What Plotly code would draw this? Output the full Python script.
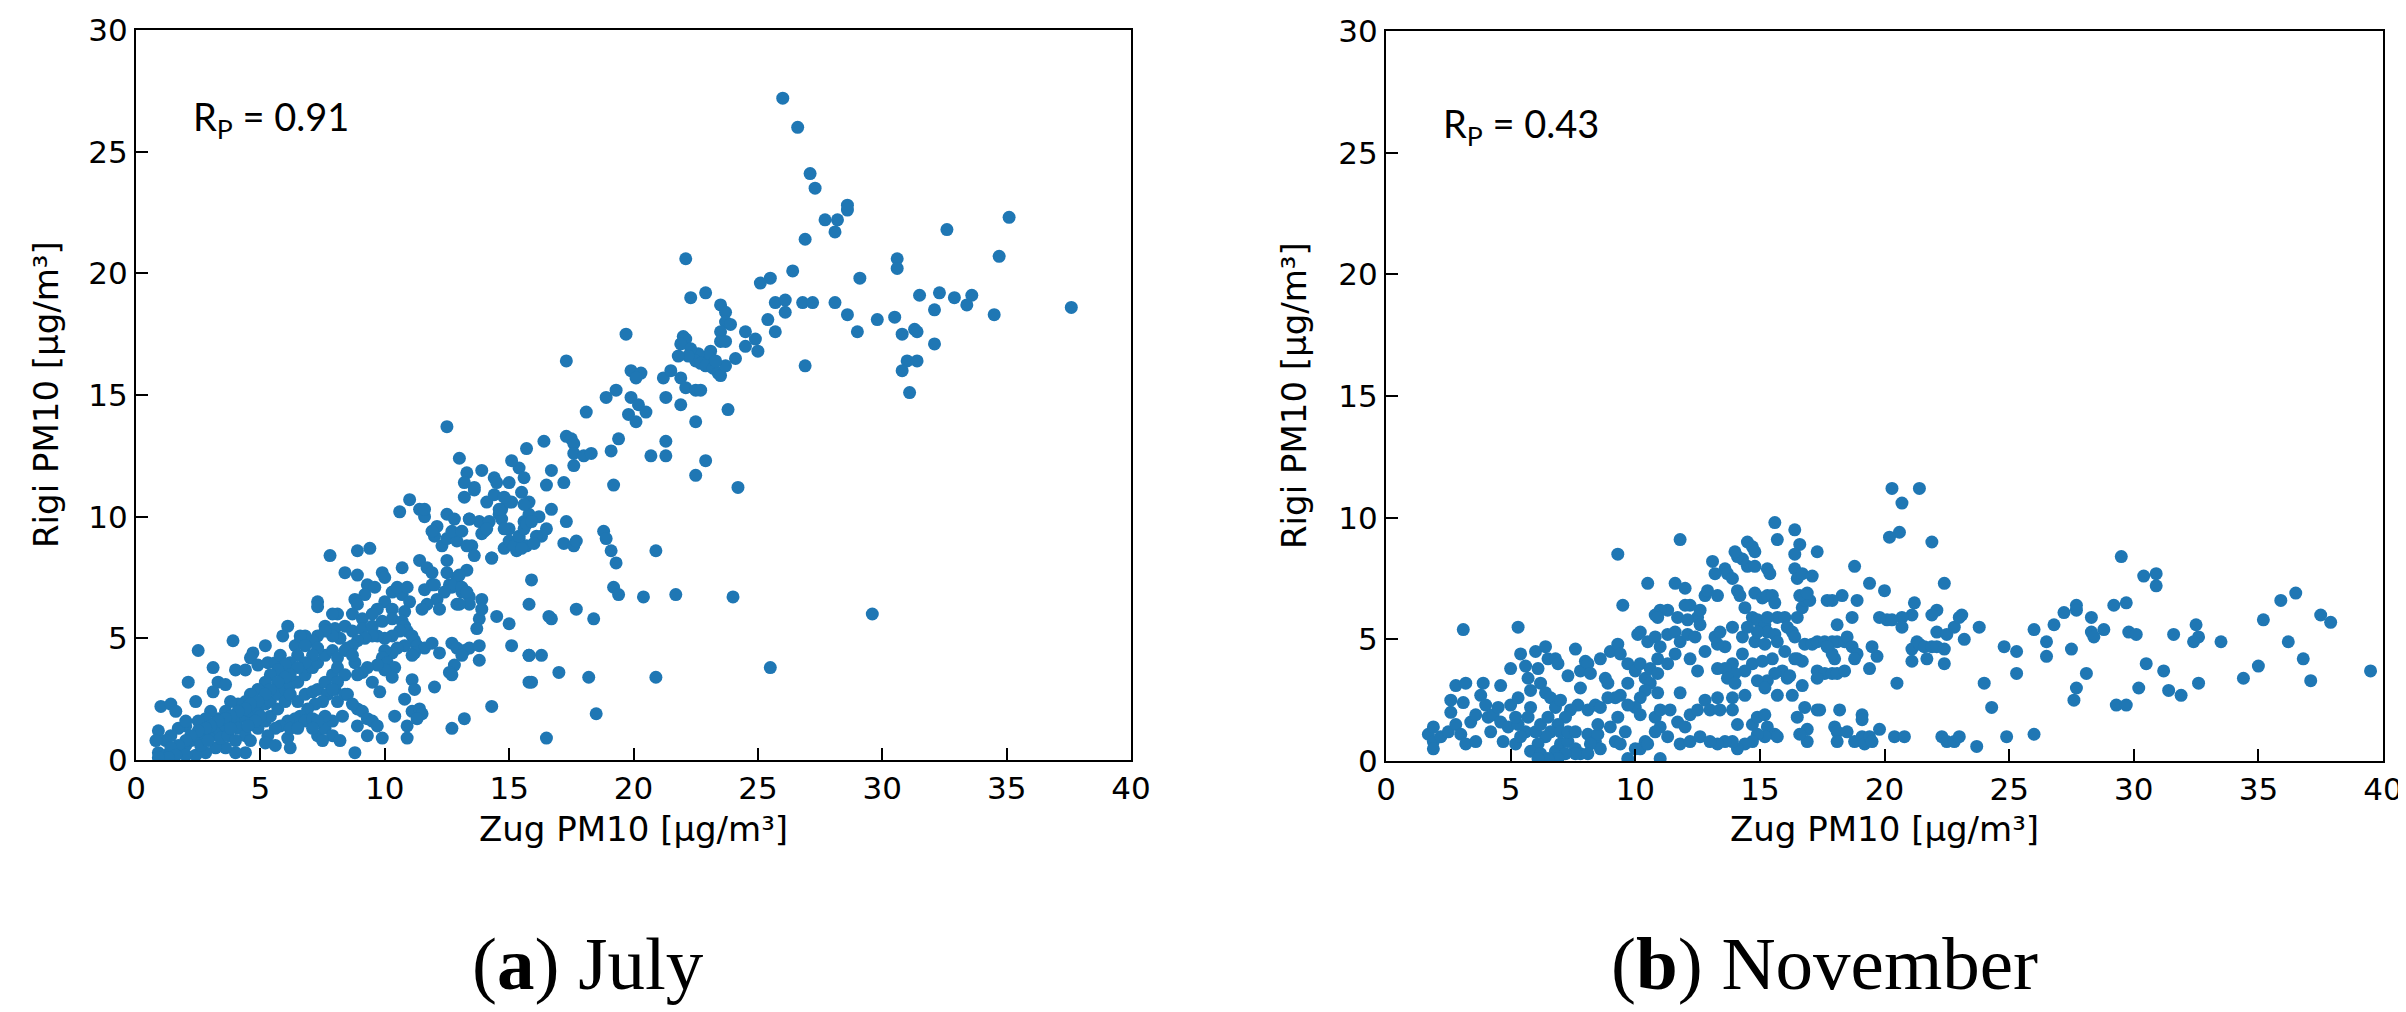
import plotly.graph_objects as go

# ---------------- July (Zug vs Rigi PM10) ----------------
jul_x = [
    11.0, 10.6, 11.4, 11.6, 11.6, 13.2, 13.6, 14.1, 14.4, 14.7, 15.1, 15.5, 12.1, 12.5, 12.8, 13.4, 13.8, 14.0, 14.6, 15.0,
    15.4, 15.6, 15.8, 12.0, 12.3, 12.5, 12.9, 13.5, 14.3, 14.8, 15.3, 15.7, 12.7, 11.9, 13.1,
    7.8, 8.9, 9.4, 8.4, 8.9, 9.9, 10.0, 10.7, 11.4, 11.7, 11.9, 12.5, 13.3, 12.9, 12.6, 11.9, 11.6, 12.1, 12.7, 13.1,
    13.4, 13.9, 12.9, 12.2, 11.7, 11.5, 9.3, 9.6, 9.2, 8.8, 8.9, 10.0, 10.3, 10.7, 10.5, 10.9, 11.0, 10.8, 10.3, 9.7,
    9.5, 9.1, 8.7, 8.1, 7.9, 7.3, 7.3, 7.6, 8.0, 8.4, 8.7, 9.1, 9.5, 9.9, 10.3, 10.7, 10.8, 10.9, 11.1, 10.6,
    10.3, 10.0, 9.7, 9.5, 9.2, 8.9, 8.7, 8.5, 8.2, 7.9, 7.6, 7.3, 7.1, 6.8, 6.6, 6.4, 6.1, 5.9, 13.8, 14.5,
    15.0, 15.8, 13.9, 13.7,
    11.2, 11.3, 11.6, 11.9, 12.2, 12.7, 12.9, 13.2, 13.4, 13.1, 12.8, 12.6, 12.7, 13.8, 13.8, 15.1, 15.8, 15.8, 11.1, 11.2,
    12.0, 11.2, 11.1, 10.8, 10.5, 10.3, 10.0, 9.9, 10.1, 10.4, 10.0, 9.7, 9.3, 9.1, 8.9, 9.5, 9.8, 10.3, 10.8, 10.4,
    11.1, 11.4, 11.5, 11.3, 10.9, 10.9, 12.7, 13.2, 14.3, 8.9, 9.1, 9.3, 9.5, 9.7, 8.9, 9.3, 9.9, 8.8,
    2.5, 3.9, 5.2, 4.7, 3.1, 2.1, 3.3, 3.1, 3.6, 4.0, 4.4, 4.6, 4.9, 5.3, 5.6, 5.8, 6.6, 6.8, 6.5, 6.2,
    6.0, 5.7, 5.4, 5.2, 4.9, 4.6, 4.4, 4.1, 3.8, 3.6, 3.3, 3.0, 2.8, 2.5, 2.4, 2.0, 1.7, 1.4, 1.2, 0.9,
    0.8, 0.9, 1.2, 1.4, 1.7, 2.0, 2.2, 2.5, 2.8, 3.0, 3.3, 3.6, 3.8, 4.1, 4.4, 4.6, 4.9, 5.2, 5.4, 5.7,
    6.0, 6.2, 6.5, 6.8, 7.1, 7.3, 7.6, 7.9, 8.1, 8.4, 7.3, 7.1, 6.8, 6.5, 6.2, 6.0, 5.7, 5.4, 5.2, 4.9,
    4.6, 4.4, 4.1, 3.8, 3.6, 3.3, 3.0, 2.8, 2.5, 2.2, 2.0, 1.7, 1.4, 1.0, 1.4, 1.6, 2.0, 4.1, 4.4, 4.6,
    4.9, 5.2, 5.4, 5.7, 6.0, 6.2, 6.5, 6.8, 7.1, 7.3, 7.6, 7.9, 8.1, 8.0, 7.7, 7.5, 7.2, 6.9, 6.6, 6.4,
    6.1, 5.8, 5.6, 5.3, 5.2, 5.6, 6.1, 6.2, 6.8, 7.3, 7.6, 7.9, 8.2, 7.5, 8.1, 8.4, 6.2, 4.4, 4.0, 3.6,
    3.2, 2.8, 2.4, 2.0, 1.6, 1.3, 0.9, 2.6, 2.9, 3.4, 3.7, 4.0, 6.5, 7.1, 5.0, 4.8, 4.5, 3.8, 8.8, 8.7,
    8.4, 8.1, 7.9, 8.5, 8.7, 8.3, 7.9, 7.6, 7.3, 7.1,
    22.3, 22.9, 23.5, 23.7, 23.7, 23.9, 25.7, 26.1, 26.1, 26.8, 27.2, 25.4, 25.7, 24.5, 24.9, 25.0, 24.5, 24.1, 23.5, 23.5,
    23.7, 23.1, 23.0, 22.6, 22.5, 22.7, 22.9, 23.2, 23.4, 23.5, 23.7, 22.0, 22.1, 21.9, 22.3, 22.2, 21.8, 23.3, 19.7, 17.3,
    19.9, 20.3, 20.1, 21.2, 21.5, 21.9, 22.1, 22.5, 22.7, 21.3, 21.9, 23.8, 22.5, 26.9, 18.9, 19.3, 19.9, 20.2, 20.5, 19.8,
    20.1, 18.1, 17.3, 17.5, 17.6, 19.4, 19.1, 17.6, 18.0, 18.3, 17.6, 20.7, 21.3, 21.3, 22.5, 22.9, 24.2, 19.2, 16.4, 15.7,
    16.7, 17.2, 16.5, 15.4, 15.6, 15.1, 15.0, 14.4, 14.5, 13.9, 13.6, 13.3, 13.2, 13.0, 12.5,
    16.7, 17.3, 16.2, 16.5, 16.3, 17.2, 17.6, 17.7, 18.8, 18.9, 19.1, 19.3, 20.9, 15.9, 19.2, 19.4, 20.4, 21.7, 24.0, 17.7,
    16.6, 16.7, 18.4, 15.8, 16.3, 17.0, 18.2, 20.9, 15.9, 18.5, 25.5, 16.5, 29.6,
    14.7, 14.8, 15.0, 15.2, 15.5, 15.4, 15.6, 15.7, 15.9, 16.1, 16.0, 15.8, 15.6, 15.0, 14.8, 14.6, 14.2, 13.9, 14.1, 13.4,
    13.6, 14.3, 13.3, 12.5, 12.8, 13.0, 13.1, 13.3, 13.4, 13.0, 12.4, 12.0,
    26.0, 26.6, 27.1, 27.3, 28.6, 28.6, 27.7, 28.2, 28.1, 26.9, 35.1, 32.6, 34.7, 30.6, 30.6, 29.1, 26.4, 25.5, 25.1, 22.1,
    31.5, 32.3, 32.9, 33.6, 33.4, 32.1, 34.5, 37.6, 28.1, 28.6, 29.8, 30.5, 29.0, 30.8, 31.3, 31.4, 32.1, 31.0, 31.4, 30.8,
    31.1,
]
jul_y = [
    10.7, 10.2, 10.3, 10.0, 10.3, 10.8, 11.1, 10.6, 10.9, 10.3, 10.6, 11.0, 9.6, 10.1, 9.9, 9.9, 9.8, 9.4, 10.1, 9.5,
    9.1, 9.8, 10.1, 9.2, 8.8, 9.1, 9.0, 8.8, 8.3, 8.7, 8.6, 8.8, 9.4, 9.4, 9.4,
    8.4, 8.6, 8.7, 7.7, 7.6, 7.7, 7.5, 7.9, 8.2, 7.9, 7.7, 8.2, 7.8, 7.5, 7.2, 7.2, 7.0, 6.6, 7.1, 6.9,
    6.7, 6.6, 6.4, 6.2, 6.4, 6.2, 7.2, 7.1, 6.8, 6.6, 6.4, 6.5, 6.9, 6.8, 7.1, 7.1, 6.5, 6.1, 6.2, 6.2,
    6.0, 5.8, 6.0, 6.0, 6.0, 6.5, 6.3, 5.5, 5.4, 5.5, 5.3, 5.4, 5.5, 5.7, 5.8, 5.7, 5.5, 5.3, 5.1, 5.3,
    5.1, 5.0, 5.1, 5.1, 5.0, 4.9, 4.7, 4.6, 5.0, 5.1, 5.3, 5.1, 4.9, 5.1, 4.9, 4.7, 5.5, 5.1, 5.8, 5.9,
    5.6, 6.4, 6.2, 5.4,
    4.9, 4.7, 4.6, 4.8, 4.4, 4.8, 4.6, 4.5, 4.6, 4.3, 3.9, 3.6, 3.5, 4.7, 4.1, 4.7, 4.3, 3.2, 3.3, 2.9,
    3.0, 4.4, 4.3, 4.7, 4.6, 4.4, 4.5, 4.2, 4.0, 3.8, 3.7, 3.9, 3.8, 3.6, 3.5, 3.2, 2.8, 3.4, 2.5, 1.8,
    2.0, 2.1, 1.9, 1.7, 1.4, 0.9, 1.3, 1.7, 2.2, 2.1, 2.0, 1.7, 1.6, 1.4, 1.4, 1.0, 0.9, 0.3,
    4.5, 4.9, 4.7, 4.4, 3.8, 3.2, 3.2, 2.8, 3.1, 3.7, 3.7, 4.2, 3.9, 4.0, 4.0, 4.3, 5.1, 4.7, 4.3, 4.0,
    3.9, 3.7, 3.5, 3.2, 2.9, 2.7, 2.4, 2.3, 2.4, 2.0, 1.7, 2.0, 1.7, 1.6, 2.4, 1.4, 1.3, 1.0, 0.8, 1.2,
    0.8, 0.3, 0.2, 0.3, 0.5, 0.6, 0.8, 0.9, 0.9, 1.0, 1.3, 1.4, 1.6, 1.7, 1.8, 2.0, 2.1, 2.3, 2.4, 2.7,
    2.9, 3.1, 3.2, 3.5, 3.8, 4.0, 4.3, 4.5, 4.2, 4.5, 4.6, 4.3, 4.0, 3.8, 3.5, 3.4, 3.2, 2.9, 2.7, 2.4,
    2.3, 2.1, 2.0, 1.8, 1.7, 1.6, 1.4, 1.3, 1.2, 1.0, 0.8, 0.6, 0.5, 2.2, 2.3, 2.0, 1.6, 1.3, 1.0, 0.8,
    1.3, 1.6, 1.8, 2.1, 2.4, 2.7, 2.4, 2.7, 2.8, 2.9, 3.2, 3.5, 3.8, 2.9, 2.7, 2.4, 2.3, 2.1, 1.8, 1.7,
    1.6, 1.4, 1.3, 1.0, 0.7, 0.6, 0.9, 0.5, 1.6, 1.0, 1.3, 1.0, 0.8, 0.8, 2.4, 2.7, 1.3, 0.3, 0.3, 0.5,
    0.5, 0.3, 0.2, 0.2, 0.2, 0.1, 0.1, 0.6, 0.8, 0.9, 1.0, 0.8, 1.3, 1.7, 1.8, 1.6, 1.4, 1.3, 4.0, 4.3,
    3.5, 3.2, 2.9, 2.7, 2.3, 1.8, 1.6, 1.8, 1.6, 1.3,
    19.0, 19.2, 18.7, 18.4, 18.0, 17.9, 18.8, 18.9, 18.4, 18.8, 18.8, 18.1, 17.6, 17.6, 17.3, 16.8, 17.0, 16.5, 17.6, 17.2,
    17.2, 16.8, 16.6, 16.7, 16.4, 16.3, 16.2, 16.1, 15.9, 15.8, 16.2, 17.4, 17.3, 17.1, 16.9, 16.6, 16.6, 16.4, 17.5, 16.4,
    16.0, 15.9, 15.7, 15.7, 16.0, 15.7, 15.3, 15.2, 15.2, 14.9, 14.6, 14.4, 13.9, 16.2, 14.9, 15.2, 14.9, 14.6, 14.3, 14.2,
    13.9, 14.3, 13.3, 13.2, 13.0, 13.2, 12.7, 12.6, 12.5, 12.6, 12.1, 12.5, 12.5, 13.1, 11.7, 12.3, 11.2, 11.3, 13.1, 12.8,
    11.9, 11.4, 11.3, 12.0, 11.6, 12.3, 11.4, 11.6, 11.4, 11.9, 11.2, 11.8, 11.4, 12.4, 13.7,
    10.3, 9.8, 10.0, 9.5, 9.2, 8.9, 8.8, 9.0, 9.4, 9.1, 8.6, 8.1, 8.6, 7.4, 7.1, 6.8, 6.7, 6.8, 6.7, 6.2,
    5.9, 5.8, 5.8, 4.3, 4.3, 3.6, 3.4, 3.4, 3.2, 1.9, 3.8, 0.9, 6.0,
    9.9, 9.5, 9.0, 8.8, 8.7, 9.2, 9.5, 9.7, 9.8, 9.2, 8.9, 10.6, 10.5, 10.6, 10.8, 10.3, 9.8, 9.3, 9.5, 9.9,
    8.4, 8.3, 8.8, 7.7, 7.2, 7.6, 7.1, 6.9, 6.4, 6.4, 6.9, 7.2,
    27.2, 26.0, 24.1, 23.5, 22.8, 22.6, 22.2, 22.2, 21.7, 21.4, 22.3, 21.8, 20.7, 20.6, 20.2, 19.8, 20.1, 19.8, 19.6, 20.6,
    19.1, 19.2, 19.0, 19.1, 18.7, 18.5, 18.3, 18.6, 18.8, 18.3, 18.1, 18.2, 17.6, 17.5, 17.7, 17.6, 17.1, 16.4, 16.4, 16.0,
    15.1,
]

# ---------------- November ----------------
nov_x = [
    1.7, 1.9, 1.9, 1.9, 2.2, 2.5, 2.6, 2.6, 2.8, 2.8, 3.2, 3.1, 3.1, 3.0, 3.2, 3.4, 3.6, 3.6, 3.8, 3.9,
    4.0, 4.1, 4.3, 4.2, 4.5, 4.6, 4.6, 4.7, 4.9, 5.0, 5.0, 5.2, 5.3, 5.4, 5.3, 5.6, 5.7, 5.8, 5.8, 6.0,
    6.1, 6.2, 6.4, 6.5, 6.8, 6.9, 6.4, 6.6, 6.8, 7.0, 7.3, 7.6, 7.8, 8.0, 8.1, 8.2, 7.8, 7.7, 7.4, 7.2,
    6.9, 6.6, 6.4, 6.1, 5.8, 6.2, 6.8, 7.0, 7.3, 7.6, 7.8, 5.6, 5.3, 5.2, 5.7, 5.4, 6.0, 6.2, 6.5, 7.0,
    7.3, 7.6, 8.1, 8.4, 8.5, 8.1, 8.4, 8.6, 8.5, 8.8, 8.9, 8.6, 9.0, 9.3, 9.4, 9.3, 9.5, 10.5, 11.6, 11.8,
    12.0, 9.7, 10.0, 10.2, 10.4, 10.6, 10.9, 10.1, 10.2, 10.5, 10.8, 11.0, 11.3, 11.6, 11.8, 12.1, 12.4, 12.5, 12.8, 12.6,
    12.2, 12.0, 11.7, 11.3, 11.0, 10.8, 10.9, 12.1, 12.6, 12.8, 12.5, 12.2, 11.6, 11.3, 10.9, 10.6, 10.4, 10.2, 10.0, 9.7,
    9.4, 9.2, 8.9, 9.7, 10.9, 11.8, 10.2, 10.8, 11.0, 11.4, 11.7, 12.0, 12.2, 12.5, 12.8, 11.0, 10.8, 10.4, 10.2, 10.5,
    11.3, 11.8, 12.2, 12.6, 9.7, 11.0, 9.2, 9.0, 9.3, 9.6, 9.4, 10.0, 8.6, 8.2, 8.1, 7.6, 7.2, 6.9, 6.5, 6.1,
    20.3, 21.4, 20.7, 20.6, 20.2, 21.9, 15.6, 16.4, 15.7, 14.5, 14.7, 14.8, 16.6, 16.4, 17.3, 18.8, 19.4, 20.0, 22.4, 21.2,
    22.1, 21.9, 21.1, 20.7, 19.8, 20.1, 20.3, 20.7, 22.1, 22.5, 22.8, 23.1, 23.0, 23.8, 23.2, 21.3, 21.1, 21.4, 21.6, 21.9,
    22.1, 22.4, 21.1, 21.7, 22.4, 26.0, 26.8, 27.2, 27.7, 27.7, 28.3, 28.3, 28.4, 26.5, 26.5, 24.8, 25.3, 25.3, 27.5, 28.1,
    27.7, 27.6, 24.0, 24.3, 20.5, 19.4, 19.7, 19.5, 18.7, 18.9, 18.1, 18.3, 17.9, 17.7, 16.4, 16.5, 16.7, 17.1, 15.3, 15.4,
    14.5, 14.8, 14.3, 14.1, 14.0, 13.6, 13.7, 13.9, 13.1, 13.2, 12.9, 13.3, 14.1, 14.2, 14.8, 15.1, 15.3, 15.5, 15.6, 14.4,
    14.7, 14.9, 15.2, 15.3, 15.6, 15.7, 16.0, 16.1, 16.3, 16.4, 16.5, 16.7, 16.8, 17.0, 16.6, 16.9, 16.8, 17.1, 17.3, 17.6,
    17.9, 18.1, 18.4, 18.5, 18.7, 18.9, 18.8, 18.0, 17.9, 17.7, 17.3, 17.6, 17.9, 18.1, 18.4, 17.3, 16.5, 16.7, 16.4, 16.1,
    15.9, 15.6, 15.3, 14.9, 15.2, 14.7, 14.3, 13.9, 13.6, 13.3, 13.2, 13.4, 13.9, 14.3, 14.8, 15.2, 15.7, 16.0, 15.5, 15.1,
    14.4, 14.0, 13.6, 13.3, 13.7, 14.0, 14.4, 13.9, 13.3, 13.0, 13.4, 13.9, 14.1, 14.7, 14.9, 15.2, 15.3, 15.6, 15.7, 15.2,
    14.9, 14.7, 14.4, 14.1, 13.9, 13.6, 13.3, 13.0, 15.7, 16.3, 16.7, 16.8, 16.5, 16.9, 16.9, 16.6, 17.3, 17.4, 18.2, 19.1,
    19.1, 18.0, 18.1, 18.5, 18.1, 18.8, 19.1, 19.2, 19.4, 19.5, 19.8, 20.4, 20.8, 22.3, 22.5, 22.8, 23.0, 23.7, 24.9, 26.0,
    16.2, 15.3, 14.9, 14.5,
    29.5, 30.4, 30.9, 30.9, 29.2, 29.7, 28.8, 29.8, 30.1, 31.6, 32.5, 32.6, 32.4, 33.5, 35.2, 35.9, 36.5, 37.5, 37.9, 36.2,
    36.8, 35.0, 34.4, 37.1, 39.5, 30.5, 31.2, 30.2, 31.4, 31.9, 32.6, 29.3, 29.7,
]
nov_y = [
    1.1, 1.4, 0.8, 0.5, 1.0, 1.2, 2.0, 2.5, 1.5, 3.1, 3.2, 5.4, 2.4, 1.1, 0.7, 1.6, 1.9, 0.8, 2.7, 3.2,
    2.3, 1.8, 1.9, 1.2, 2.2, 3.1, 1.6, 0.8, 1.4, 3.8, 2.3, 0.7, 5.5, 4.4, 2.6, 3.9, 3.4, 2.9, 2.2, 4.5,
    3.8, 3.2, 4.7, 4.2, 4.2, 4.0, 2.8, 2.6, 2.2, 2.5, 3.5, 4.6, 3.7, 4.1, 4.0, 3.6, 3.0, 2.3, 2.1, 1.8,
    1.5, 1.2, 1.0, 0.7, 0.4, 0.3, 0.4, 0.7, 0.8, 0.5, 0.3, 1.2, 1.5, 1.8, 1.8, 1.0, 1.2, 1.5, 1.8, 1.2,
    1.2, 1.2, 1.1, 0.8, 1.1, 2.1, 2.3, 2.2, 1.5, 3.4, 3.2, 4.2, 4.5, 4.8, 4.4, 8.5, 6.4, 7.3, 7.3, 9.1,
    7.1, 4.0, 3.7, 4.0, 3.4, 3.8, 4.2, 5.2, 5.3, 4.9, 5.1, 4.7, 5.2, 5.3, 4.9, 5.2, 5.1, 5.9, 6.8, 6.2,
    6.4, 6.4, 5.9, 6.2, 6.2, 6.0, 5.9, 5.8, 5.6, 4.5, 3.7, 4.2, 4.4, 4.0, 3.6, 3.2, 2.9, 2.6, 2.2, 2.3,
    2.7, 2.6, 2.6, 3.2, 2.8, 2.8, 1.9, 1.8, 2.1, 2.1, 1.6, 1.4, 1.9, 2.1, 2.5, 1.4, 1.2, 0.8, 0.5, 0.7,
    1.0, 0.7, 0.8, 1.0, 0.1, 0.1, 0.8, 1.4, 1.8, 1.2, 0.7, 0.5, 0.5, 0.7, 0.3, 0.3, 0.3, 0.1, 0.1, 0.1,
    11.2, 11.2, 10.6, 9.4, 9.2, 9.0, 9.8, 9.5, 9.1, 9.0, 8.8, 8.6, 8.9, 8.5, 8.6, 8.0, 7.3, 7.0, 7.3, 6.5,
    6.2, 6.0, 6.0, 5.9, 5.9, 5.8, 5.8, 5.5, 5.3, 5.2, 5.5, 6.0, 5.9, 5.5, 5.0, 4.9, 4.6, 4.8, 4.7, 4.7,
    4.7, 4.6, 4.1, 4.2, 4.0, 5.4, 5.6, 6.1, 6.4, 6.2, 5.9, 5.3, 5.1, 4.9, 4.3, 4.7, 4.5, 3.6, 4.6, 3.6,
    3.0, 2.5, 3.2, 2.2, 3.2, 3.8, 4.3, 4.7, 5.9, 6.6, 5.6, 6.8, 6.6, 6.6, 7.9, 7.5, 7.7, 7.6, 7.9, 7.7,
    8.0, 8.0, 8.3, 8.4, 8.6, 7.9, 7.7, 7.5, 8.2, 7.7, 7.0, 6.8, 7.0, 6.8, 6.9, 6.7, 6.8, 6.8, 6.5, 6.3,
    5.9, 5.8, 5.6, 5.3, 5.2, 5.9, 5.9, 5.5, 5.3, 5.1, 5.9, 6.3, 6.6, 6.6, 6.8, 6.9, 4.8, 4.8, 4.9, 4.9,
    4.9, 4.9, 4.9, 5.1, 4.7, 4.4, 4.2, 4.2, 4.4, 4.7, 3.7, 3.6, 3.6, 3.6, 3.7, 3.4, 4.2, 4.1, 4.2, 3.4,
    3.7, 3.6, 3.3, 3.3, 3.0, 4.0, 4.4, 4.0, 4.7, 4.8, 5.1, 5.3, 5.5, 5.1, 4.9, 4.8, 4.9, 4.5, 4.2, 4.1,
    3.7, 3.6, 3.8, 3.8, 3.4, 3.2, 2.7, 2.6, 2.6, 2.1, 2.1, 2.1, 1.5, 1.5, 1.8, 1.9, 1.4, 1.1, 1.0, 1.0,
    1.1, 0.8, 0.7, 0.5, 0.8, 0.8, 0.7, 0.8, 2.7, 2.7, 3.1, 2.2, 1.8, 1.3, 0.8, 1.1, 2.1, 2.1, 2.1, 1.9,
    1.7, 1.4, 1.2, 1.2, 0.8, 0.8, 1.0, 0.7, 1.0, 0.8, 1.3, 1.0, 1.0, 1.0, 0.8, 0.8, 1.0, 0.6, 1.0, 1.1,
    3.5, 5.9, 5.3, 5.5,
    8.4, 7.6, 7.7, 7.2, 6.4, 6.5, 5.4, 5.3, 5.2, 5.2, 5.6, 5.1, 4.9, 4.9, 5.8, 6.6, 6.9, 6.0, 5.7, 4.9,
    4.2, 3.9, 3.4, 3.3, 3.7, 4.0, 3.7, 3.0, 2.9, 2.7, 3.2, 2.3, 2.3,
]

x_ticks = [0, 5, 10, 15, 20, 25, 30, 35, 40]
y_ticks = [0, 5, 10, 15, 20, 25, 30]
x_title = "Zug PM10 [μg/m³]"
y_title = "Rigi PM10 [μg/m³]"
r_labels = ["R<sub>P</sub> = 0.91", "R<sub>P</sub> = 0.43"]
captions = ["(<b>a</b>) July", "(<b>b</b>) November"]

n1 = min(len(jul_x), len(jul_y))
n2 = min(len(nov_x), len(nov_y))

W, H = 2406, 1012
BLUE = "#1f77b4"

fig = go.Figure()
fig.add_trace(go.Scatter(x=jul_x[:n1], y=jul_y[:n1], mode="markers", xaxis="x", yaxis="y",
                         marker=dict(size=13, color=BLUE, line=dict(width=0)), showlegend=False))
fig.add_trace(go.Scatter(x=nov_x[:n2], y=nov_y[:n2], mode="markers", xaxis="x2", yaxis="y2",
                         marker=dict(size=13, color=BLUE, line=dict(width=0)), showlegend=False))

tickfont = dict(family="DejaVu Sans", size=31, color="#000")
common = dict(showline=True, linecolor="#000", linewidth=2, mirror=True, showgrid=False, zeroline=False,
              ticks="inside", ticklen=12, tickwidth=2, tickcolor="#000", tickfont=tickfont)

L1, R1 = 128 / W, 1123 / W
L2, R2 = 1378 / W, 2375 / W
B1, T1 = (H - 752) / H, (H - 22) / H
B2, T2 = (H - 753) / H, (H - 23) / H

fig.update_layout(
    width=W, height=H, margin=dict(l=0, r=0, t=0, b=0),
    paper_bgcolor="white", plot_bgcolor="white", template="none",
    xaxis=dict(domain=[L1, R1], range=[0, 40], tickvals=x_ticks, anchor="y", **common),
    yaxis=dict(domain=[B1, T1], range=[0, 30], tickvals=y_ticks, anchor="x", **common),
    xaxis2=dict(domain=[L2, R2], range=[0, 40], tickvals=x_ticks, anchor="y2", **common),
    yaxis2=dict(domain=[B2, T2], range=[0, 30], tickvals=y_ticks, anchor="x2", **common),
)

title_font = dict(family="DejaVu Sans", size=34, color="#000")
ann = []
for (l, r, b, t) in [(L1, R1, B1, T1), (L2, R2, B2, T2)]:
    ann.append(dict(xref="paper", yref="paper", x=(l + r) / 2, y=(H - 821) / H, text=x_title,
                    showarrow=False, xanchor="center", yanchor="middle", font=title_font))
ann.append(dict(xref="paper", yref="paper", x=38 / W, y=(B1 + T1) / 2, text=y_title, textangle=-90,
                showarrow=False, xanchor="center", yanchor="middle", font=title_font))
ann.append(dict(xref="paper", yref="paper", x=1286 / W, y=(B2 + T2) / 2, text=y_title, textangle=-90,
                showarrow=False, xanchor="center", yanchor="middle", font=title_font))
rfont = dict(family="Lato", size=38, color="#000")
ann.append(dict(xref="x", yref="y", x=2.2, y=26.35, text=r_labels[0], showarrow=False,
                xanchor="left", yanchor="middle", font=rfont))
ann.append(dict(xref="x2", yref="y2", x=2.2, y=26.1, text=r_labels[1], showarrow=False,
                xanchor="left", yanchor="middle", font=rfont))
cfont = dict(family="Liberation Serif", size=75, color="#000")
ann.append(dict(xref="paper", yref="paper", x=580 / W, y=(H - 955) / H, text=captions[0], showarrow=False,
                xanchor="center", yanchor="middle", font=cfont))
ann.append(dict(xref="paper", yref="paper", x=1816 / W, y=(H - 955) / H, text=captions[1], showarrow=False,
                xanchor="center", yanchor="middle", font=cfont))
fig.update_layout(annotations=ann)

fig.write_html("out.html")
